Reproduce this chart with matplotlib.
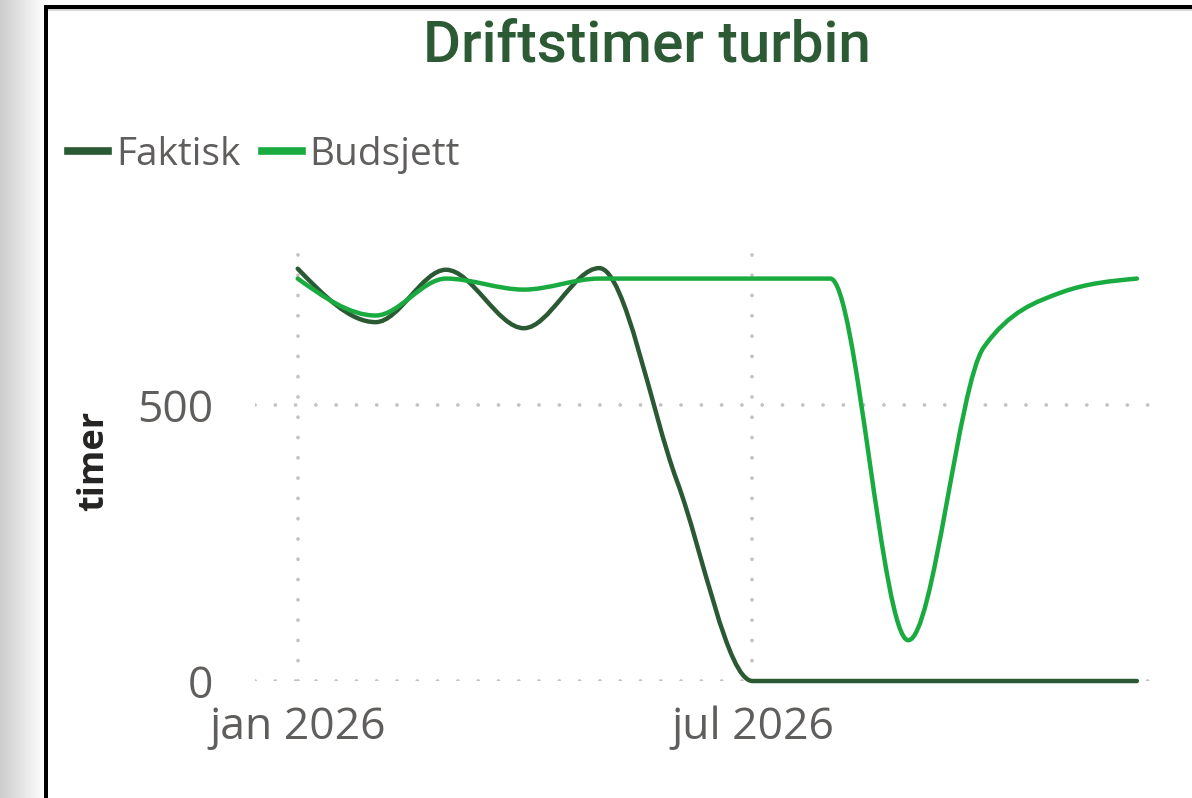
import numpy as np
import matplotlib
matplotlib.use("Agg")
import matplotlib.pyplot as plt
import matplotlib.dates as mdates
from matplotlib.path import Path
from matplotlib.patches import PathPatch, Rectangle
from matplotlib.lines import Line2D

months = np.arange("2026-01", "2027-01", dtype="datetime64[M]").astype("datetime64[D]")
faktisk = [748, 651, 746, 640, 749, 362, 0, 0, 0, 0, 0, 0]
budsjett = [730, 663, 730, 710, 730, 730, 730, 730, 74, 605, 705, 730]

tick_dates = np.array(["2026-01-01", "2026-07-01"], dtype="datetime64[D]")
tick_labels = ["jan 2026", "jul 2026"]
y_ticks = [0, 500]

c_fakt = "#2a5934"
c_bud = "#1aab40"
c_text = "#605e5c"

plt.rcParams["lines.dash_capstyle"] = "round"


def smooth_path(x, y):
    # monotone cubic (same idea as d3 curveMonotoneX), as bezier segments
    x = np.asarray(x, float)
    y = np.asarray(y, float)
    n = len(x)
    t = np.zeros(n)
    for i in range(1, n - 1):
        h0 = x[i] - x[i - 1]
        h1 = x[i + 1] - x[i]
        s0 = (y[i] - y[i - 1]) / h0
        s1 = (y[i + 1] - y[i]) / h1
        p = (s0 * h1 + s1 * h0) / (h0 + h1)
        t[i] = (np.sign(s0) + np.sign(s1)) * min(abs(s0), abs(s1), 0.5 * abs(p))
    t[0] = (3 * (y[1] - y[0]) / (x[1] - x[0]) - t[1]) / 2
    t[-1] = (3 * (y[-1] - y[-2]) / (x[-1] - x[-2]) - t[-2]) / 2
    verts = [(x[0], y[0])]
    codes = [Path.MOVETO]
    for i in range(n - 1):
        dx = (x[i + 1] - x[i]) / 3
        verts += [(x[i] + dx, y[i] + dx * t[i]),
                  (x[i + 1] - dx, y[i + 1] - dx * t[i + 1]),
                  (x[i + 1], y[i + 1])]
        codes += [Path.CURVE4] * 3
    return Path(verts, codes)


fig = plt.figure(figsize=(11.92, 7.98), dpi=100)
fig.patch.set_facecolor("white")

# screenshot frame: grey strip on the left, black border
bg = fig.add_axes([0, 0, 46 / 1192, 1])
grad = np.linspace(0.80, 1.0, 60).reshape(1, -1)
bg.imshow(grad, cmap="gray", vmin=0, vmax=1, aspect="auto", extent=[0, 1, 0, 1])
bg.axis("off")
fig.add_artist(Rectangle((44 / 1192, 0), 4 / 1192, 1 - 5 / 798,
                         transform=fig.transFigure, color="black", lw=0))
fig.add_artist(Rectangle((44 / 1192, 1 - 9 / 798), 1, 4 / 798,
                         transform=fig.transFigure, color="black", lw=0))
fig.add_artist(Rectangle((48 / 1192, 1 - 11 / 798), 1, 2 / 798,
                         transform=fig.transFigure, color="#d6d6d6", lw=0))

ax = fig.add_axes([255 / 1192, 1 - 681 / 798, 902 / 1192, 441 / 798])
xnum = mdates.date2num(months)
ax.add_patch(PathPatch(smooth_path(xnum, faktisk), facecolor="none", edgecolor=c_fakt,
                       lw=3.2, joinstyle="round", capstyle="round", clip_on=False, zorder=3))
ax.add_patch(PathPatch(smooth_path(xnum, budsjett), facecolor="none", edgecolor=c_bud,
                       lw=3.2, joinstyle="round", capstyle="round", clip_on=False, zorder=4))

ax.set_xlim(mdates.date2num(np.datetime64("2025-12-15")), mdates.date2num(np.datetime64("2026-12-09")))
ax.set_ylim(0, 800)
ax.set_xticks(mdates.date2num(tick_dates))
ax.set_xticklabels(tick_labels)
ax.set_yticks(y_ticks)
ax.set_yticklabels([str(v) for v in y_ticks])
ax.tick_params(length=0, labelcolor=c_text, labelsize=32)
ax.tick_params(axis="y", pad=30)
ax.tick_params(axis="x", pad=18)
for lab in ax.get_xticklabels() + ax.get_yticklabels():
    lab.set_family("Open Sans")
for s in ax.spines.values():
    s.set_visible(False)
ax.grid(True, color="#c4c2c0", lw=2.7, linestyle=(0, (0.01, 5.4)))
ax.set_axisbelow(True)

ax.set_ylabel("timer", family="Open Sans", weight="bold", fontsize=26, color="#252423")
ax.yaxis.set_label_coords(-0.158, 0.5)

handles = [Line2D([], [], color=c_fakt, lw=5.5), Line2D([], [], color=c_bud, lw=5.5)]
leg = fig.legend(handles, ["Faktisk", "Budsjett"], loc="center left",
                 bbox_to_anchor=(68 / 1192, 1 - 155 / 798), ncol=2, frameon=False,
                 prop={"family": "Open Sans", "size": 28}, labelcolor=c_text,
                 handlelength=1.03, handletextpad=0.2, columnspacing=0.55,
                 borderpad=0, borderaxespad=0)

fig.text(647 / 1192, 1 - 62 / 798, "Driftstimer turbin", ha="center", va="baseline",
         fontsize=42, family="Roboto", weight="medium", color="#2b5a34")

fig.savefig("out.png", dpi=100)
